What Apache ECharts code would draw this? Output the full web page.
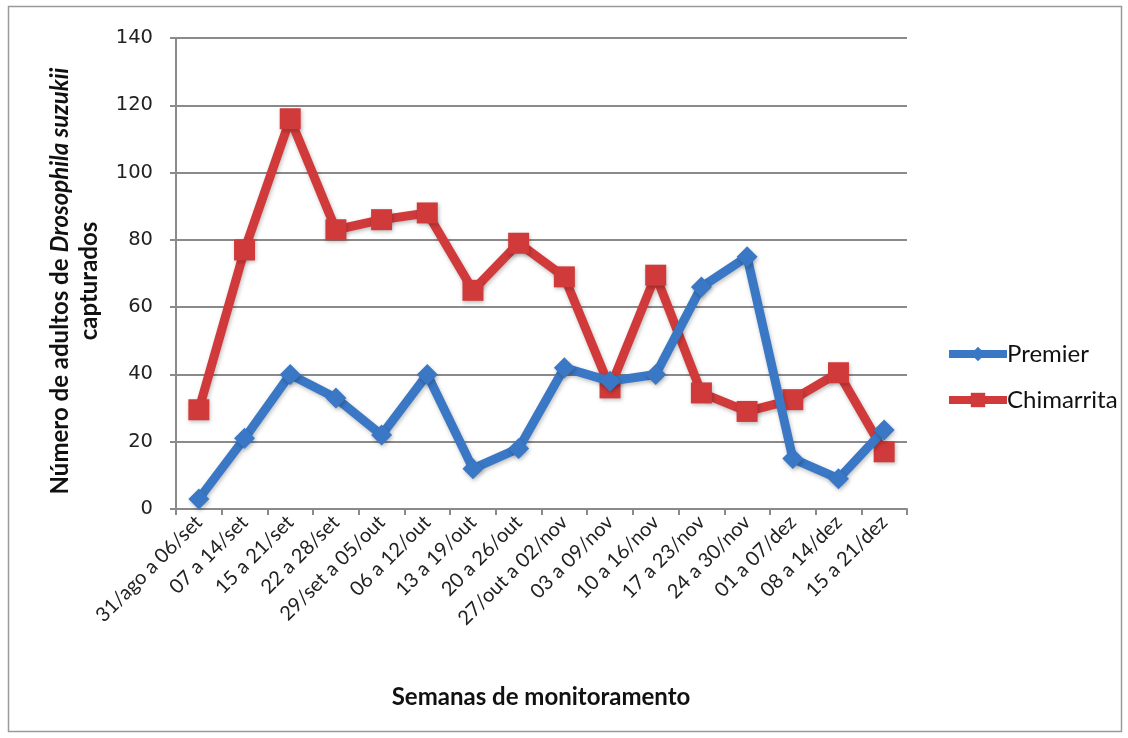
<!DOCTYPE html>
<html>
<head>
<meta charset="utf-8">
<script src="https://cdn.jsdelivr.net/npm/echarts@6/dist/echarts.min.js"></script>
<style>
  html, body { margin: 0; padding: 0; background: #fff; }
  #chart { width: 1128px; height: 738px; }
</style>
</head>
<body>
<div id="chart"></div>
<script>
// Weekly monitoring periods
const weeks = [
  '31/ago a 06/set', '07 a 14/set', '15 a 21/set', '22 a 28/set',
  '29/set a 05/out', '06 a 12/out', '13 a 19/out', '20 a 26/out',
  '27/out a 02/nov', '03 a 09/nov', '10 a 16/nov', '17 a 23/nov',
  '24 a 30/nov', '01 a 07/dez', '08 a 14/dez', '15 a 21/dez'
];
// Adults captured per week, by cultivar
const premier = [3, 21, 40, 33, 22, 40, 12, 18, 42, 38, 40, 66, 75, 15, 9, 23.5];
const chimarrita = [29.5, 77, 116, 83, 86, 88, 65, 79, 69, 36, 69.5, 34.5, 29, 32.5, 40.5, 17];
const yTicks = { min: 0, max: 140, step: 20 };

const chart = echarts.init(document.getElementById('chart'));
const gray = '#8a8a8a';
const shadow = { shadowColor: 'rgba(0,0,0,0.25)', shadowBlur: 4, shadowOffsetX: 1, shadowOffsetY: 2 };
const blue = '#3a78c6';
const red = '#d13a3a';

chart.setOption({
  animation: false,
  backgroundColor: '#fff',
  grid: { left: 176, top: 38, right: 221, bottom: 229, containLabel: false },
  graphic: [
    {
      type: 'rect', silent: true,
      shape: { x: 8.5, y: 6.5, width: 1113, height: 725 },
      style: { fill: 'none', stroke: '#9a9a9a', lineWidth: 1.5 }
    },
    {
      type: 'text', silent: true,
      x: 60, y: 281, rotation: Math.PI / 2,
      style: {
        text: '{b|Número de adultos de }{i|Drosophila suzukii}',
        align: 'center', verticalAlign: 'middle',
        rich: {
          b: { fontFamily: 'Lato', fontWeight: 'bold', fontSize: 24, fill: '#111' },
          i: { fontFamily: 'Lato', fontWeight: 'bold', fontStyle: 'italic', fontSize: 24, fill: '#111' }
        }
      }
    },
    {
      type: 'text', silent: true,
      x: 89, y: 281, rotation: Math.PI / 2,
      style: {
        text: 'capturados', align: 'center', verticalAlign: 'middle',
        fontFamily: 'Lato', fontWeight: 'bold', fontSize: 24, fill: '#111'
      }
    },
    {
      type: 'text', silent: true,
      x: 541, y: 697,
      style: {
        text: 'Semanas de monitoramento', align: 'center', verticalAlign: 'middle',
        fontFamily: 'Lato', fontWeight: 'bold', fontSize: 24, fill: '#111'
      }
    }
  ],
  legend: {
    orient: 'vertical',
    left: 940, top: 337,
    itemGap: 22,
    itemWidth: 58, itemHeight: 18,
    lineStyle: { width: 8 },
    textStyle: { fontFamily: 'Lato', fontSize: 24, color: '#111', padding: [0, 0, 0, -5] },
    data: ['Premier', 'Chimarrita']
  },
  xAxis: {
    type: 'category',
    data: weeks,
    boundaryGap: true,
    axisLine: { lineStyle: { color: gray, width: 2 } },
    axisTick: { show: true, length: 6, lineStyle: { color: gray, width: 2 } },
    axisLabel: {
      interval: 0, rotate: 45, margin: 10,
      fontFamily: 'Lato', fontSize: 20, color: '#222'
    }
  },
  yAxis: {
    type: 'value',
    min: yTicks.min, max: yTicks.max, interval: yTicks.step,
    axisLine: { show: true, lineStyle: { color: gray, width: 2 } },
    axisTick: { show: true, length: 6, lineStyle: { color: gray, width: 2 } },
    splitLine: { lineStyle: { color: gray, width: 2 } },
    axisLabel: { margin: 23, fontFamily: 'DejaVu Sans', fontSize: 19.5, color: '#222' }
  },
  series: [
    {
      name: 'Premier', type: 'line', data: premier,
      symbol: 'diamond', symbolSize: 21,
      lineStyle: Object.assign({ color: blue, width: 9 }, shadow),
      itemStyle: Object.assign({ color: blue }, shadow),
      z: 3
    },
    {
      name: 'Chimarrita', type: 'line', data: chimarrita,
      symbol: 'rect', symbolSize: 21,
      lineStyle: Object.assign({ color: red, width: 9 }, shadow),
      itemStyle: Object.assign({ color: red }, shadow),
      z: 2
    }
  ]
});
</script>
</body>
</html>
